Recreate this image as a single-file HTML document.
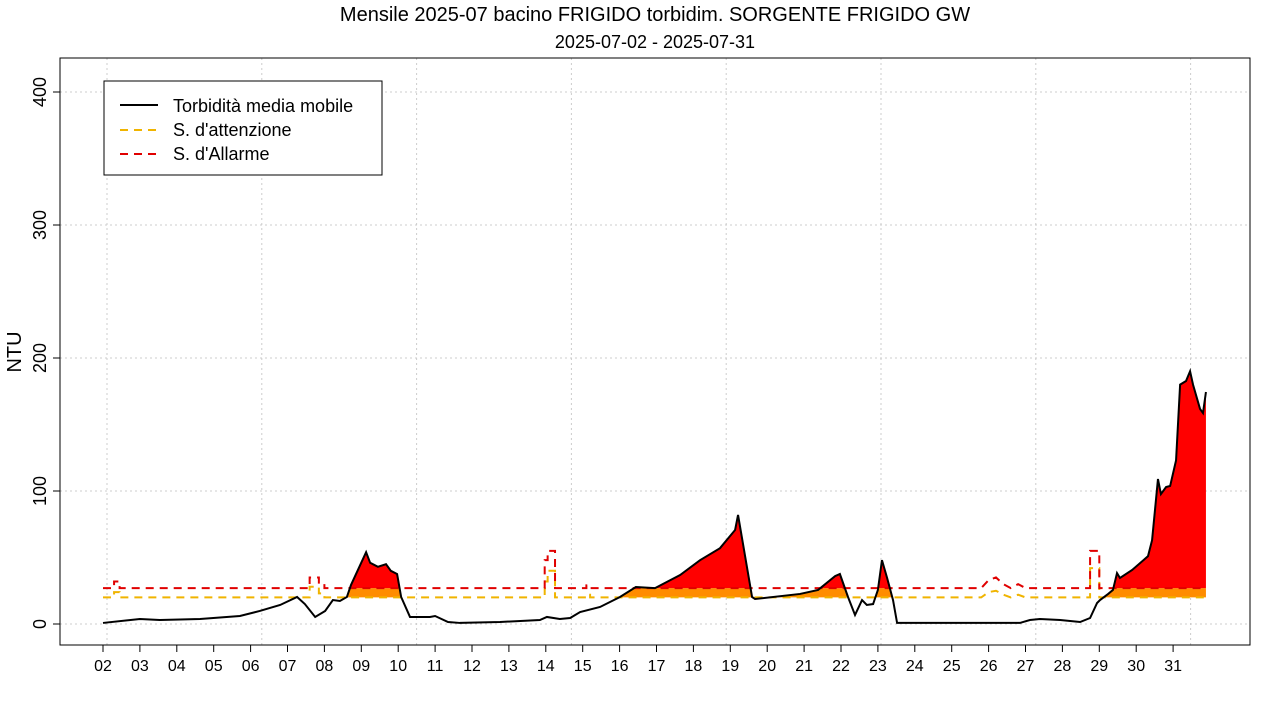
<!DOCTYPE html>
<html><head><meta charset="utf-8"><style>
body{margin:0;background:#fff;}
svg{display:block;font-family:"Liberation Sans",Arial,sans-serif;}
</style></head><body>
<svg id="chart" width="1280" height="720">
<text x="655" y="21" font-size="20" text-anchor="middle">Mensile 2025-07 bacino FRIGIDO torbidim. SORGENTE FRIGIDO GW</text>
<text x="655" y="48" font-size="18" text-anchor="middle">2025-07-02 - 2025-07-31</text>
<text transform="translate(21,352) rotate(-90)" font-size="20" text-anchor="middle">NTU</text>
<g id="grid"></g><g id="fills"></g><g id="lines"></g><g id="axes"></g>
<rect x="60" y="58" width="1190" height="587" fill="none" stroke="#000"/>
<g>
<rect x="104" y="81" width="278" height="94" fill="#fff" stroke="#000"/>
<line x1="120" y1="105" x2="158" y2="105" stroke="#000" stroke-width="2"/>
<text x="173" y="112" font-size="18">Torbidità media mobile</text>
<line x1="120" y1="130" x2="158" y2="130" stroke="#f0b400" stroke-width="2" stroke-dasharray="8,6"/>
<text x="173" y="136" font-size="18">S. d'attenzione</text>
<line x1="120" y1="154" x2="158" y2="154" stroke="#e00000" stroke-width="2" stroke-dasharray="8,6"/>
<text x="173" y="160" font-size="18">S. d'Allarme</text>
</g>
</svg>
<script>
const dayTicks=["02","03","04","05","06","07","08","09","10","11","12","13","14","15","16","17","18","19","20","21","22","23","24","25","26","27","28","29","30","31"];
const yTicks=[0,100,200,300,400];
const days=[2.00,3.00,3.54,4.63,5.71,6.25,6.80,7.26,7.47,7.75,8.02,8.23,8.42,8.61,8.72,9.13,9.24,9.45,9.67,9.80,9.97,10.08,10.32,10.86,11.00,11.35,11.67,12.76,13.84,14.03,14.38,14.66,14.93,15.47,16.01,16.44,16.96,17.64,18.18,18.72,19.13,19.21,19.59,19.67,20.89,21.38,21.84,21.97,22.19,22.38,22.57,22.70,22.87,23.00,23.11,23.25,23.41,23.52,26.85,27.12,27.39,27.94,28.48,28.75,28.94,29.02,29.24,29.37,29.48,29.56,29.89,30.32,30.43,30.59,30.67,30.81,30.92,31.08,31.19,31.35,31.46,31.54,31.73,31.81,31.89];
const vals=[0.8,3.8,3,3.8,6,9.8,14.3,20.3,15,5.3,9.8,18,17.3,20.3,29.3,54,46,43,45,40,37.6,20.3,5.3,5.3,6,1.5,0.8,1.5,3,5.3,3.8,4.5,9,12.8,20.3,27.8,27,36.8,48,57,70.7,82,20.3,18.8,22.6,25.6,36,37.6,20.3,6.8,18,14.3,15,25.6,48,34.6,18,0.8,0.8,3,3.8,3,1.5,4.5,15.8,18,22.6,25.6,38.3,34.6,40.6,51,63,109,97.7,103,103.8,123,180,182.7,190,180,161.7,158.6,174.4];
const thrDays=[2,2.3,2.3,2.45,2.45,7.6,7.6,7.85,7.85,8.0,8.0,13.97,13.97,14.05,14.05,14.25,14.25,15.1,15.1,15.2,15.2,25.8,26,26.2,26.4,26.6,26.8,27,28.75,28.75,29.0,29.0,31.9];
const attVals=[20,20,24,24,20,20,28,28,23,23,20,20,32,32,40,40,20,20,22,22,20,20,24,25,22,20,22,20,20,42,42,20,20];
const alaVals=[27,27,32,32,27,27,35,35,30,30,27,27,48,48,55,55,27,27,29,29,27,27,33,35,30,27,30,27,27,55,55,27,27];
const ATT=20, ALA=27;
const X=d=>103+(d-2)*36.9, Y=v=>624-v*1.33;
const NS="http://www.w3.org/2000/svg";
function mk(tag,attrs,parent){const e=document.createElementNS(NS,tag);for(const k in attrs)e.setAttribute(k,attrs[k]);document.getElementById(parent).appendChild(e);return e;}
for(const v of yTicks){const l=mk('line',{x1:60,x2:1250,y1:Y(v),y2:Y(v),stroke:'#ccc','stroke-dasharray':'2,3'},'grid');

}
for(let i=0;i<8;i++){const gx=107+i*154.8;const l=mk('line',{x1:gx,x2:gx,y1:58,y2:645,stroke:'#ccc','stroke-dasharray':'2,3'},'grid');

}
const n=Math.min(days.length,vals.length);
const xs=[],ys=[];
for(let i=0;i<n-1;i++){for(let k=0;k<8;k++){const t=k/8;xs.push(days[i]+(days[i+1]-days[i])*t);ys.push(vals[i]+(vals[i+1]-vals[i])*t);}}
xs.push(days[n-1]);ys.push(vals[n-1]);
let orange=`M${X(xs[0])},${Y(ATT)}`,red=`M${X(xs[0])},${Y(ALA)}`;
for(let i=0;i<xs.length;i++){orange+=` L${X(xs[i])},${Y(Math.min(Math.max(ys[i],ATT),ALA))}`;red+=` L${X(xs[i])},${Y(Math.max(ys[i],ALA))}`;}
orange+=` L${X(xs[xs.length-1])},${Y(ATT)} Z`;red+=` L${X(xs[xs.length-1])},${Y(ALA)} Z`;
const fo=mk('path',{d:orange,fill:'#ff8c00'},'fills');


const fr=mk('path',{d:red,fill:'#ff0000'},'fills');


const pa=mk('polyline',{points:thrDays.map((d,i)=>X(d)+','+Y(attVals[i])).join(' '),fill:'none',stroke:'#f0b400','stroke-width':2,'stroke-dasharray':'8,6'},'lines');


const pr=mk('polyline',{points:thrDays.map((d,i)=>X(d)+','+Y(alaVals[i])).join(' '),fill:'none',stroke:'#e00000','stroke-width':2,'stroke-dasharray':'8,6'},'lines');


const pm=mk('polyline',{points:days.slice(0,n).map((d,i)=>X(d)+','+Y(vals[i])).join(' '),fill:'none',stroke:'#000','stroke-width':2},'lines');


const xa=mk('line',{x1:X(2),x2:X(31),y1:645,y2:645,stroke:'#000'},'axes');


dayTicks.forEach((t,i)=>{const x=X(2+i);mk('line',{x1:x,x2:x,y1:645,y2:652,stroke:'#000'},'axes');
const tx=mk('text',{x:x,y:671,'font-size':16,'text-anchor':'middle'},'axes');tx.textContent=t;

});
yTicks.forEach(v=>{mk('line',{x1:53,x2:60,y1:Y(v),y2:Y(v),stroke:'#000'},'axes');
const tx=mk('text',{transform:`translate(46,${Y(v)}) rotate(-90)`,'font-size':18,'text-anchor':'middle'},'axes');tx.textContent=v;

});
</script>
</body></html>
